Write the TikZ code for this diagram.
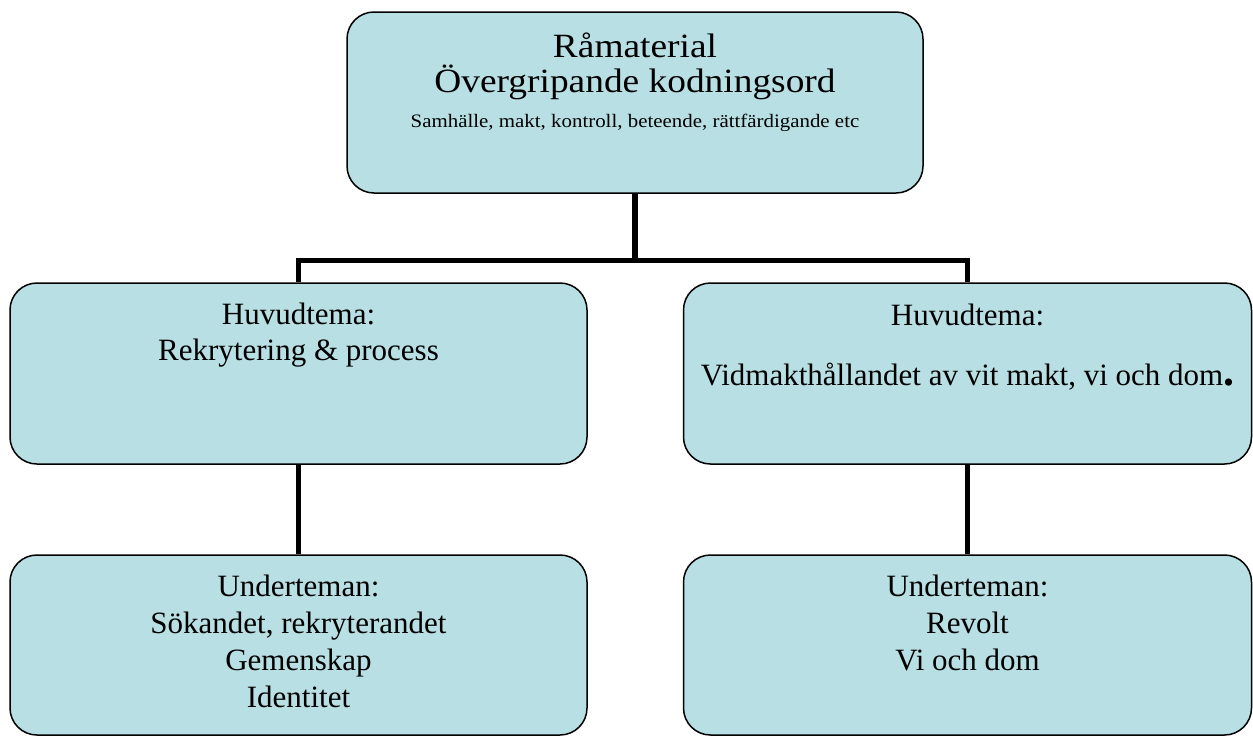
\documentclass[tikz,border=0pt]{standalone}
\usepackage{fontspec}
\setmainfont{Liberation Serif}
\newfontfamily\widefont{Liberation Serif}[FakeStretch=1.1]
\definecolor{boxfill}{RGB}{184,223,227}
% text sits at the top of each box
\newcommand{\boxtext}[3]{\parbox[c][#2][t]{#1}{\centering #3}}

\begin{document}
\begin{tikzpicture}[
	x=1pt,
	y=-1pt,
	themebox/.style={draw=black,line width=1.5pt,fill=boxfill,rounded corners=27pt,inner sep=0pt},
	link/.style={line width=5.5pt,line join=miter},
	font=\fontsize{31}{36}\selectfont
	]
	\useasboundingbox (0,0) rectangle (1253,737);
	\node[themebox,font=\widefont\fontsize{34}{35}\selectfont] (raw) at (635,102.5)
		{\boxtext{576pt}{181pt}{\vspace*{21pt}Råmaterial\\Övergripande kodningsord\\{\fontsize{19}{35}\selectfont Samhälle, makt, kontroll, beteende, rättfärdigande etc}}};
	\node[themebox] (themeL) at (298.5,373.5)
		{\boxtext{577pt}{181pt}{\vspace*{20pt}Huvudtema:\\Rekrytering \& process}};
	\node[themebox] (themeR) at (967.5,373.5)
		{\boxtext{568pt}{181pt}{\vspace*{21pt}Huvudtema:\\[24pt]Vidmakthållandet av vit makt, vi och dom{\fontsize{44}{36}\selectfont\textbf{.}}}};
	\node[themebox,font=\fontsize{31}{37.3}\selectfont] (subL) at (298.5,645)
		{\boxtext{577pt}{180pt}{\vspace*{19.5pt}Underteman:\\Sökandet, rekryterandet\\Gemenskap\\Identitet}};
	\node[themebox,font=\fontsize{31}{37.3}\selectfont] (subR) at (967.5,645)
		{\boxtext{568pt}{180pt}{\vspace*{19.5pt}Underteman:\\Revolt\\Vi och dom}};
	% connectors
	\path (raw.south) ++(0,66.5) coordinate (split);
	\draw[link] (raw.south) -- (split);
	\draw[link] (themeL.north) |- (split) -| (themeR.north);
	\draw[link] (themeL.south) -- (subL.north);
	\draw[link] (themeR.south) -- (subR.north);
\end{tikzpicture}
\end{document}
